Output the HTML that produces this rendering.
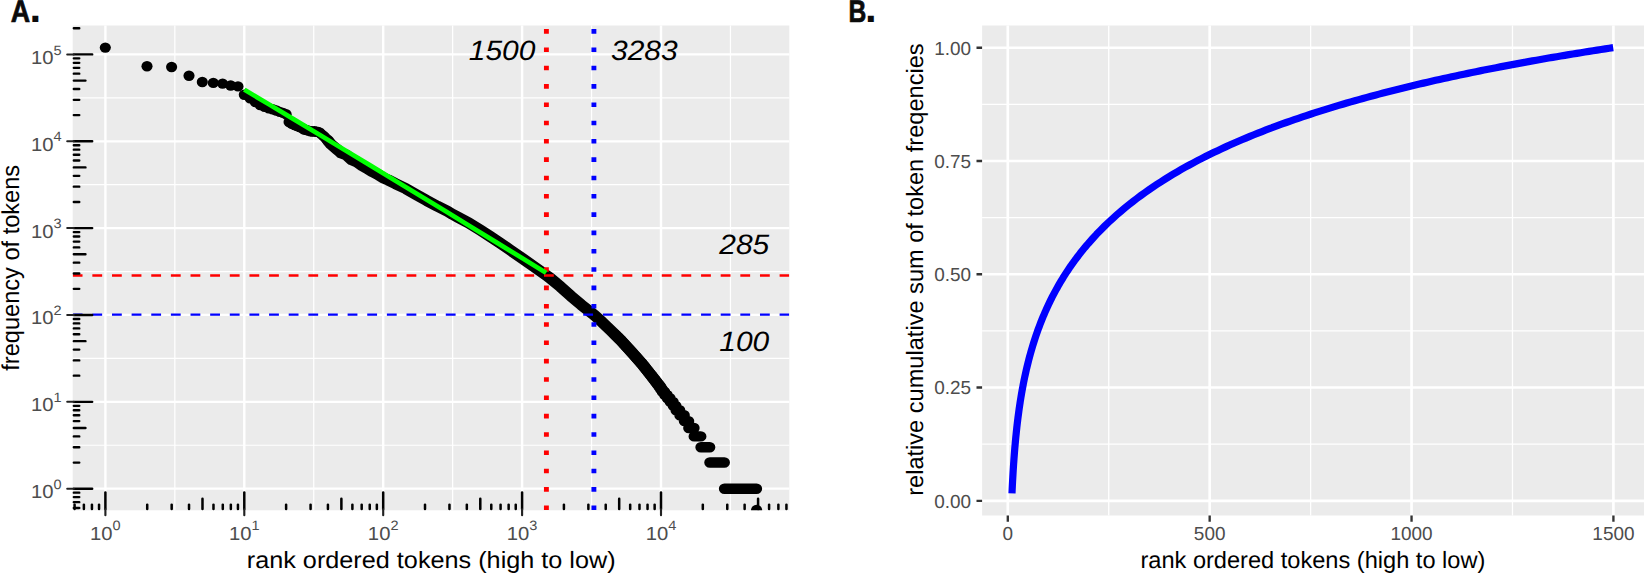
<!DOCTYPE html>
<html lang="en">
<head>
<meta charset="utf-8">
<title>Rank-frequency of tokens</title>
<style>
html,body{margin:0;padding:0;background:#fff;}
body{width:1644px;height:574px;overflow:hidden;}
svg{display:block;font-family:"Liberation Sans", Arial, Helvetica, sans-serif;text-rendering:geometricPrecision;}
</style>
</head>
<body>
<svg width="1644" height="574" viewBox="0 0 1644 574">
<rect width="1644" height="574" fill="#fff"/>
<g transform="scale(1.0695 1)">
<rect x="67.98" y="25.5" width="670.03" height="484.8" fill="#EBEBEB"/>
<path d="M163.49 25.5V510.3M293.36 25.5V510.3M423.24 25.5V510.3M553.11 25.5V510.3M682.98 25.5V510.3M67.98 445.27H738.01M67.98 358.41H738.01M67.98 271.55H738.01M67.98 184.69H738.01M67.98 97.83H738.01" stroke="#fff" stroke-width="1.15" fill="none"/>
<path d="M98.55 25.5V510.3M228.42 25.5V510.3M358.3 25.5V510.3M488.17 25.5V510.3M618.05 25.5V510.3M67.98 488.7H738.01M67.98 401.84H738.01M67.98 314.98H738.01M67.98 228.12H738.01M67.98 141.26H738.01M67.98 54.4H738.01" stroke="#fff" stroke-width="2.25" fill="none"/>
<clipPath id="ca"><rect x="67.98" y="25.5" width="670.03" height="484.8"/></clipPath>
<g clip-path="url(#ca)">
<g fill="#000"><circle cx="98.46" cy="47.6" r="5.2"/><circle cx="137.45" cy="66.2" r="5.2"/><circle cx="160.45" cy="67" r="5.2"/><circle cx="176.72" cy="75.7" r="5.2"/><circle cx="189.15" cy="82" r="5.2"/><circle cx="199.44" cy="82.9" r="5.2"/><circle cx="208.13" cy="83.6" r="5.2"/><circle cx="215.71" cy="85.5" r="5.2"/><circle cx="222.53" cy="86.4" r="5.2"/><circle cx="228.42" cy="94.8" r="5.2"/><circle cx="233.8" cy="98.2" r="5.2"/><circle cx="238.71" cy="102" r="5.2"/><circle cx="243.22" cy="105" r="5.2"/><circle cx="247.4" cy="106.9" r="5.2"/><circle cx="251.29" cy="108.2" r="5.2"/><circle cx="254.93" cy="109.3" r="5.2"/><circle cx="258.35" cy="110.5" r="5.2"/><circle cx="261.58" cy="111.9" r="5.2"/><circle cx="264.63" cy="112.9" r="5.2"/><circle cx="267.52" cy="114.3" r="5.2"/><circle cx="270.27" cy="122" r="5.2"/><circle cx="272.9" cy="123.9" r="5.2"/><circle cx="275.4" cy="125" r="5.2"/><circle cx="277.8" cy="126" r="5.2"/><circle cx="280.11" cy="127" r="5.2"/><circle cx="282.32" cy="128" r="5.2"/><circle cx="284.45" cy="129.5" r="5.2"/><circle cx="286.5" cy="130" r="5.2"/><circle cx="288.48" cy="130.6" r="5.2"/><circle cx="290.39" cy="131.3" r="5.2"/><circle cx="292.24" cy="131.5" r="5.2"/><circle cx="294.03" cy="131.3" r="5.2"/><circle cx="295.77" cy="131.7" r="5.2"/><circle cx="297.45" cy="132" r="5.2"/><circle cx="299.08" cy="132.6" r="5.2"/><circle cx="300.67" cy="134.4" r="5.2"/><circle cx="302.22" cy="135.6" r="5.2"/><circle cx="303.72" cy="137.2" r="5.2"/><circle cx="305.19" cy="138.9" r="5.2"/><circle cx="306.62" cy="140.6" r="5.2"/><circle cx="707.43" cy="510" r="5.2"/></g>
<path d="M306.69 140.6L309.21 144L314.07 148.5L316.97 151L318.93 152.9L323.89 155L328.75 159.7L333.61 161.8L338.48 165.5L343.43 168.6L348.29 171.7L353.16 174.4L358.02 177.7L362.97 180L369.8 183.7L379.52 188.65L389.34 194.7L399.06 200.6L408.88 206.2L418.61 211.4L423.09 214.3L428.42 217.4L438.15 222.8L448.81 229.9L458.16 236.4L467.51 243L476.86 249.9L488.17 258.2L499.3 266.6L510.89 275.4L514.26 278L524.03 286.7L533.8 296.1L543.62 304.9L555.31 314.7L563.16 322.3L570.78 330.1L580.55 340.4L590.37 351.9L600.09 363.6L609.91 376.8L616.18 385.45L618.89 389.8L623.47 395.9" fill="none" stroke="#000" stroke-width="11.1" stroke-linecap="round" stroke-linejoin="round"/>
<path d="M677.33 488.7H707.43M663.67 462.55H677.33M655.35 447.26H663.67M648.99 436.41H655.35M643.95 427.99H648.99M639.83 421.11H643.95M635.62 415.29H639.83M632.07 410.26H635.62M629.48 405.81H632.07M626.57 401.84H629.48M623.9 398.24H626.57M621.5 394.96H623.9M619.29 391.94H621.5M617.68 389.15H619.29M616.03 386.54H617.68M614.33 384.11H616.03M612.73 381.82H614.33M611.22 379.67H612.73M609.77 377.63H611.22M608.37 375.69H609.77M607.04 373.85H608.37M605.76 372.1H607.04M604.54 370.42H605.76M603.38 368.81H604.54M602.26 367.27H603.38M601.2 365.8H602.26M600.14 364.37H601.2M599.03 363H600.14M597.95 361.68H599.03M596.9 360.4H597.95M595.89 359.16H596.9M594.91 357.96H595.89M593.96 356.8H594.91M593.04 355.68H593.96M592.14 354.58H593.04M591.28 353.52H592.14M590.43 352.49H591.28M589.58 351.48H590.43M588.76 350.5H589.58M587.95 349.55H588.76M587.17 348.61H587.95M586.4 347.7H587.17M585.65 346.82H586.4M584.92 345.95H585.65M584.2 345.1H584.92M583.5 344.27H584.2M582.82 343.46H583.5M582.15 342.67H582.82M581.49 341.89H582.15M580.88 341.13H581.49M580.18 340.38H580.88M579.49 339.65H580.18M578.82 338.93H579.49M578.15 338.22H578.82M577.5 337.53H578.15M576.86 336.85H577.5M576.24 336.18H576.86M575.62 335.53H576.24M575.01 334.88H575.62M574.42 334.25H575.01" fill="none" stroke="#000" stroke-width="10.4" stroke-linecap="round"/>
<path d="M67.98 275.5H738.01" stroke="#FF0000" stroke-width="2.296" stroke-dasharray="9.18 9.18" fill="none"/>
<path d="M67.98 314.7H738.01" stroke="#0000FF" stroke-width="2.296" stroke-dasharray="9.18 9.18" fill="none"/>
<path d="M510.89 510V25.5" stroke="#FF0000" stroke-width="4.58" stroke-dasharray="4.58 13.74" fill="none"/>
<path d="M555.31 510V25.5" stroke="#0000FF" stroke-width="4.58" stroke-dasharray="4.58 13.74" fill="none"/>
<path d="M228.42 89.6L251.94 104.66L275.46 119.76L298.97 134.9L322.49 150.07L346 165.29L369.52 180.55L393.03 195.84L416.55 211.17L440.07 226.55L463.58 241.96L487.1 257.41L510.61 272.9" stroke="#00FF00" stroke-width="4.58" fill="none" stroke-linejoin="round"/>
</g>
<path d="M69.07 507.97h5M69.07 502.15h5M69.07 497.12h5M69.07 492.67h5M69.07 488.7h17.1M69.07 462.55h5M69.07 447.26h5M69.07 436.41h5M69.07 427.99h10.8M69.07 421.11h5M69.07 415.29h5M69.07 410.26h5M69.07 405.81h5M69.07 401.84h17.1M69.07 375.69h5M69.07 360.4h5M69.07 349.55h5M69.07 341.13h10.8M69.07 334.25h5M69.07 328.43h5M69.07 323.4h5M69.07 318.95h5M69.07 314.98h17.1M69.07 288.83h5M69.07 273.54h5M69.07 262.69h5M69.07 254.27h10.8M69.07 247.39h5M69.07 241.57h5M69.07 236.54h5M69.07 232.09h5M69.07 228.12h17.1M69.07 201.97h5M69.07 186.68h5M69.07 175.83h5M69.07 167.41h10.8M69.07 160.53h5M69.07 154.71h5M69.07 149.68h5M69.07 145.23h5M69.07 141.26h17.1M69.07 115.11h5M69.07 99.82h5M69.07 88.97h5M69.07 80.55h10.8M69.07 73.67h5M69.07 67.85h5M69.07 62.82h5M69.07 58.37h5M69.07 54.4h17.1M69.07 28.25h5M69.74 509.12v-4.55M78.43 509.12v-4.55M85.96 509.12v-4.55M92.61 509.12v-4.55M98.55 509.12v-16.75M137.65 509.12v-4.55M160.52 509.12v-4.55M176.74 509.12v-4.55M189.33 509.12v-10.35M199.61 509.12v-4.55M208.31 509.12v-4.55M215.84 509.12v-4.55M222.48 509.12v-4.55M228.42 509.12v-16.75M267.52 509.12v-4.55M290.39 509.12v-4.55M306.62 509.12v-4.55M319.2 509.12v-10.35M329.49 509.12v-4.55M338.18 509.12v-4.55M345.71 509.12v-4.55M352.36 509.12v-4.55M358.3 509.12v-16.75M397.39 509.12v-4.55M420.26 509.12v-4.55M436.49 509.12v-4.55M449.08 509.12v-10.35M459.36 509.12v-4.55M468.05 509.12v-4.55M475.59 509.12v-4.55M482.23 509.12v-4.55M488.17 509.12v-16.75M527.27 509.12v-4.55M550.14 509.12v-4.55M566.36 509.12v-4.55M578.95 509.12v-10.35M589.23 509.12v-4.55M597.93 509.12v-4.55M605.46 509.12v-4.55M612.1 509.12v-4.55M618.05 509.12v-16.75M657.14 509.12v-4.55M680.01 509.12v-4.55M696.24 509.12v-4.55M708.82 509.12v-10.35M719.11 509.12v-4.55M727.8 509.12v-4.55M735.33 509.12v-4.55" stroke="#000" stroke-width="2.35" stroke-linecap="round" fill="none"/>
<path d="M68.98 488.7h-6.1M68.98 401.84h-6.1M68.98 314.98h-6.1M68.98 228.12h-6.1M68.98 141.26h-6.1M68.98 54.4h-6.1M98.55 509.3v5.9M228.42 509.3v5.9M358.3 509.3v5.9M488.17 509.3v5.9M618.05 509.3v5.9" stroke="#222" stroke-width="2.0" stroke-linecap="round" fill="none"/>
<text x="57.6" y="498.2" text-anchor="end" font-size="18.96" fill="#4D4D4D">10<tspan dy="-9.4" font-size="13.6" dx="0">0</tspan></text>
<text x="57.6" y="411.34" text-anchor="end" font-size="18.96" fill="#4D4D4D">10<tspan dy="-9.4" font-size="13.6" dx="0">1</tspan></text>
<text x="57.6" y="324.48" text-anchor="end" font-size="18.96" fill="#4D4D4D">10<tspan dy="-9.4" font-size="13.6" dx="0">2</tspan></text>
<text x="57.6" y="237.62" text-anchor="end" font-size="18.96" fill="#4D4D4D">10<tspan dy="-9.4" font-size="13.6" dx="0">3</tspan></text>
<text x="57.6" y="150.76" text-anchor="end" font-size="18.96" fill="#4D4D4D">10<tspan dy="-9.4" font-size="13.6" dx="0">4</tspan></text>
<text x="57.6" y="63.9" text-anchor="end" font-size="18.96" fill="#4D4D4D">10<tspan dy="-9.4" font-size="13.6" dx="0">5</tspan></text>
<text x="98.55" y="539.8" text-anchor="middle" font-size="18.96" fill="#4D4D4D">10<tspan dy="-9.4" font-size="13.6" dx="0">0</tspan></text>
<text x="228.42" y="539.8" text-anchor="middle" font-size="18.96" fill="#4D4D4D">10<tspan dy="-9.4" font-size="13.6" dx="0">1</tspan></text>
<text x="358.3" y="539.8" text-anchor="middle" font-size="18.96" fill="#4D4D4D">10<tspan dy="-9.4" font-size="13.6" dx="0">2</tspan></text>
<text x="488.17" y="539.8" text-anchor="middle" font-size="18.96" fill="#4D4D4D">10<tspan dy="-9.4" font-size="13.6" dx="0">3</tspan></text>
<text x="618.05" y="539.8" text-anchor="middle" font-size="18.96" fill="#4D4D4D">10<tspan dy="-9.4" font-size="13.6" dx="0">4</tspan></text>
<text x="500.61" y="59.9" text-anchor="end" font-size="28.0" font-style="italic">1500</text>
<text x="571.29" y="59.9" font-size="28.0" font-style="italic">3283</text>
<text x="719.21" y="253.6" text-anchor="end" font-size="28.0" font-style="italic">285</text>
<text x="719.21" y="351.1" text-anchor="end" font-size="28.0" font-style="italic">100</text>
<text x="403.18" y="568.1" text-anchor="middle" font-size="23.6">rank ordered tokens (high to low)</text>
<text transform="translate(18.14 267.8) rotate(-90) scale(1 0.9677)" text-anchor="middle" font-size="23.6">frequency of tokens</text>
</g>
<g>
<rect x="982.1" y="25.5" width="667.9" height="490" fill="#EBEBEB"/>
<path d="M1108.74 25.5V515.5M1310.61 25.5V515.5M1512.49 25.5V515.5M982.1 444.16H1650M982.1 330.89H1650M982.1 217.61H1650M982.1 104.34H1650" stroke="#fff" stroke-width="1.3" fill="none"/>
<path d="M1007.8 25.5V515.5M1209.67 25.5V515.5M1411.55 25.5V515.5M1613.42 25.5V515.5M982.1 500.8H1650M982.1 387.52H1650M982.1 274.25H1650M982.1 160.97H1650M982.1 47.7H1650" stroke="#fff" stroke-width="2.65" fill="none"/>
<path d="M1011.98 493.42L1012.18 489.09L1012.38 485.01L1012.58 481.13L1012.79 477.46L1012.99 473.96L1013.19 470.62L1013.39 467.42L1013.59 464.36L1013.8 461.42L1014 458.6L1014.2 455.88L1014.4 453.26L1014.6 450.73L1014.8 448.28L1015.01 445.91L1015.21 443.62L1015.41 441.39L1015.61 439.24L1015.81 437.14L1016.02 435.1L1016.22 433.11L1016.42 431.18L1016.62 429.29L1016.82 427.46L1017.02 425.66L1017.23 423.91L1017.43 422.2L1017.63 420.52L1017.83 418.88L1018.03 417.28L1018.24 415.71L1018.44 414.17L1018.64 412.66L1018.84 411.18L1019.04 409.73L1019.24 408.31L1019.45 406.91L1019.65 405.53L1019.85 404.18L1020.05 402.85L1020.25 401.55L1020.46 400.27L1020.66 399L1020.86 397.76L1021.06 396.54L1021.26 395.33L1021.46 394.14L1021.67 392.97L1021.87 391.82L1022.07 390.68L1022.27 389.56L1022.47 388.46L1022.68 387.37L1022.88 386.29L1023.08 385.23L1023.28 384.18L1023.48 383.14L1023.68 382.12L1023.85 381.31L1024.65 377.39L1025.46 373.64L1026.27 370.05L1027.08 366.61L1027.88 363.3L1028.69 360.11L1029.5 357.04L1030.3 354.07L1031.11 351.2L1031.92 348.42L1032.73 345.73L1033.53 343.11L1034.34 340.57L1035.15 338.1L1035.96 335.69L1036.76 333.34L1037.57 331.05L1038.38 328.82L1039.18 326.64L1039.99 324.51L1040.8 322.43L1041.61 320.39L1042.41 318.4L1043.22 316.45L1044.03 314.53L1044.84 312.66L1045.64 310.82L1046.45 309.01L1047.26 307.24L1048.07 305.5L1048.87 303.79L1049.68 302.11L1050.49 300.46L1051.29 298.83L1052.1 297.23L1052.91 295.66L1053.72 294.11L1054.52 292.59L1055.33 291.09L1056.14 289.61L1056.95 288.15L1057.75 286.72L1058.56 285.3L1059.37 283.91L1060.17 282.53L1060.98 281.17L1061.79 279.83L1062.6 278.51L1063.4 277.2L1064.21 275.92L1065.02 274.64L1065.83 273.39L1066.63 272.15L1067.44 270.92L1068.25 269.71L1069.05 268.51L1069.86 267.33L1070.67 266.16L1071.48 265L1072.28 263.86L1073.09 262.73L1073.9 261.61L1074.71 260.5L1075.51 259.4L1076.32 258.32L1077.13 257.25L1077.94 256.19L1078.74 255.14L1079.55 254.1L1080.36 253.07L1081.16 252.05L1081.97 251.04L1082.78 250.04L1083.59 249.05L1084.39 248.07L1085.2 247.1L1086.01 246.13L1086.82 245.18L1087.62 244.24L1088.43 243.3L1092.47 238.74L1096.5 234.37L1100.54 230.18L1104.58 226.14L1108.61 222.26L1112.65 218.52L1116.69 214.9L1120.72 211.41L1124.76 208.02L1128.8 204.75L1132.83 201.57L1136.87 198.49L1140.9 195.49L1144.94 192.58L1148.98 189.75L1153.01 186.99L1157.05 184.3L1161.09 181.68L1165.12 179.13L1169.16 176.63L1173.2 174.2L1177.23 171.82L1181.27 169.49L1185.31 167.22L1189.34 164.99L1193.38 162.81L1197.42 160.68L1201.45 158.59L1205.49 156.55L1209.53 154.54L1213.56 152.57L1217.6 150.64L1221.63 148.75L1225.67 146.89L1229.71 145.06L1233.74 143.27L1237.78 141.51L1241.82 139.78L1245.85 138.08L1249.89 136.41L1253.93 134.76L1257.96 133.14L1262 131.55L1266.04 129.98L1270.07 128.44L1274.11 126.93L1278.15 125.43L1282.18 123.96L1286.22 122.51L1290.26 121.08L1294.29 119.67L1298.33 118.29L1302.36 116.92L1306.4 115.57L1310.44 114.24L1314.47 112.93L1318.51 111.64L1322.55 110.36L1326.58 109.1L1330.62 107.86L1334.66 106.63L1338.69 105.42L1342.73 104.23L1346.77 103.05L1350.8 101.88L1354.84 100.73L1358.88 99.6L1362.91 98.48L1366.95 97.37L1370.99 96.27L1375.02 95.19L1379.06 94.12L1383.09 93.06L1387.13 92.02L1391.17 90.99L1395.2 89.97L1399.24 88.96L1403.28 87.96L1407.31 86.97L1411.35 85.99L1415.39 85.03L1419.42 84.07L1423.46 83.13L1427.5 82.19L1431.53 81.27L1435.57 80.35L1439.61 79.45L1443.64 78.55L1447.68 77.66L1451.72 76.79L1455.75 75.92L1459.79 75.06L1463.82 74.21L1467.86 73.36L1471.9 72.53L1475.93 71.7L1479.97 70.88L1484.01 70.07L1488.04 69.27L1492.08 68.47L1496.12 67.68L1500.15 66.9L1504.19 66.13L1508.23 65.36L1512.26 64.6L1516.3 63.85L1520.34 63.11L1524.37 62.37L1528.41 61.64L1532.45 60.91L1536.48 60.19L1540.52 59.48L1544.55 58.77L1548.59 58.07L1552.63 57.38L1556.66 56.69L1560.7 56.01L1564.74 55.33L1568.77 54.66L1572.81 54L1576.85 53.34L1580.88 52.69L1584.92 52.04L1588.96 51.39L1592.99 50.76L1597.03 50.12L1601.07 49.5L1605.1 48.88L1609.14 48.26L1613.18 47.65" fill="none" stroke="#0000FF" stroke-width="7.2" stroke-linejoin="round"/>
<path d="M982.1 500.8h-5.6M982.1 387.52h-5.6M982.1 274.25h-5.6M982.1 160.97h-5.6M982.1 47.7h-5.6M1007.8 515.5v6.3M1209.67 515.5v6.3M1411.55 515.5v6.3M1613.42 515.5v6.3" stroke="#333" stroke-width="2.35" fill="none"/>
<text x="971" y="507.6" text-anchor="end" font-size="18.96" fill="#4D4D4D">0.00</text>
<text x="971" y="394.32" text-anchor="end" font-size="18.96" fill="#4D4D4D">0.25</text>
<text x="971" y="281.05" text-anchor="end" font-size="18.96" fill="#4D4D4D">0.50</text>
<text x="971" y="167.77" text-anchor="end" font-size="18.96" fill="#4D4D4D">0.75</text>
<text x="971" y="54.5" text-anchor="end" font-size="18.96" fill="#4D4D4D">1.00</text>
<text x="1007.8" y="540.4" text-anchor="middle" font-size="18.96" fill="#4D4D4D">0</text>
<text x="1209.67" y="540.4" text-anchor="middle" font-size="18.96" fill="#4D4D4D">500</text>
<text x="1411.55" y="540.4" text-anchor="middle" font-size="18.96" fill="#4D4D4D">1000</text>
<text x="1613.42" y="540.4" text-anchor="middle" font-size="18.96" fill="#4D4D4D">1500</text>
<text x="1312.9" y="568.1" text-anchor="middle" font-size="23.6">rank ordered tokens (high to low)</text>
<text transform="translate(922.6 269.6) rotate(-90)" text-anchor="middle" font-size="23.6">relative cumulative sum of token freqencies</text>
</g>
<text transform="translate(10.7 21.9) scale(0.86 1)" font-size="31.2" font-weight="bold" fill="#0b0b0b" stroke="#0b0b0b" stroke-width="0.7">A</text><text x="29.6" y="21.9" font-size="42" font-weight="bold" fill="#0b0b0b">.</text>
<text transform="translate(848.5 21.9) scale(0.79 1)" font-size="31.2" font-weight="bold" fill="#0b0b0b" stroke="#0b0b0b" stroke-width="0.7">B</text><text x="865.1" y="21.9" font-size="42" font-weight="bold" fill="#0b0b0b">.</text>
</svg>
</body>
</html>
